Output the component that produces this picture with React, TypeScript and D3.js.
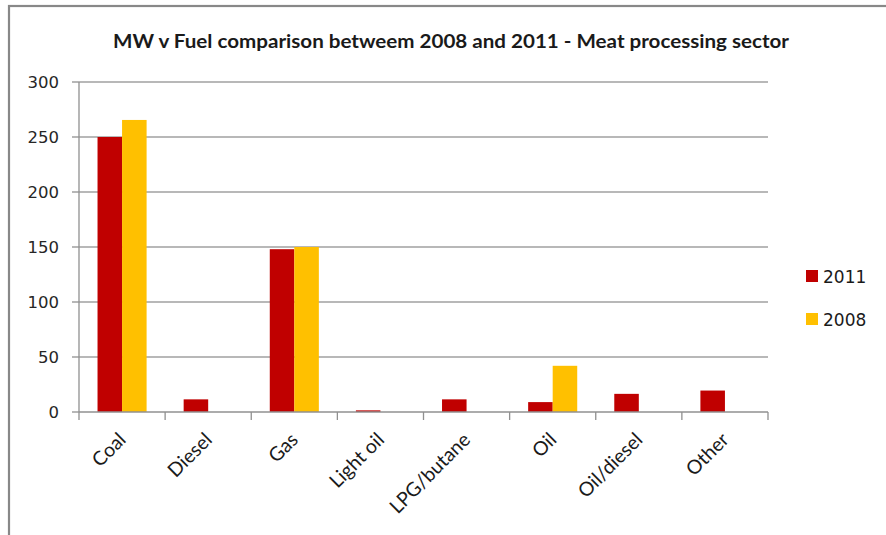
import React from "react";
import * as d3 from "d3";

const categories = ["Coal", "Diesel", "Gas", "Light oil", "LPG/butane", "Oil", "Oil/diesel", "Other"];
const series = ["2011", "2008"];
const values2011 = [250, 11.5, 148, 1.5, 11.5, 9, 16.5, 19.5];
const values2008 = [265.5, 0, 150, 0, 0, 42, 0, 0];
const yTicks = [0, 50, 100, 150, 200, 250, 300];
const colors = ["#C00000", "#FFC000"];
const title = "MW v Fuel comparison betweem 2008 and 2011 - Meat processing sector";

const W = 886;
const H = 535;
const plot = { left: 79, right: 768, top: 82, bottom: 412 };

export default function App() {
  const x = d3.scaleBand<string>().domain(categories).range([plot.left, plot.right]).paddingInner(0).paddingOuter(0);
  const xs = d3.scaleBand<string>().domain(series).range([0, x.bandwidth()]).paddingInner(0).paddingOuter(0.755);
  const y = d3.scaleLinear().domain([0, 300]).range([plot.bottom, plot.top]);
  const data = [values2011, values2008];
  const tickXs = categories.map((c) => x(c)!).concat([plot.right]);

  return (
    <div style={{ position: "absolute", left: 0, top: 0 }}>
      <svg width={W} height={H} style={{ display: "block", background: "#fff" }}>
        <rect x={9} y={6} width={W + 20} height={H + 20} fill="#fff" stroke="#888" strokeWidth={2.2} />
        <text
          x={451}
          y={48}
          textAnchor="middle"
          fontFamily="Lato, 'Open Sans', sans-serif"
          fontWeight="bold"
          fontSize={18}
          fill="#1a1a1a"
          textLength={676}
          lengthAdjust="spacingAndGlyphs"
        >
          {title}
        </text>
        {yTicks.map((t) => (
          <g key={t}>
            {t > 0 && (
              <line x1={plot.left} x2={plot.right} y1={y(t)} y2={y(t)} stroke="#a0a0a0" strokeWidth={1.3} />
            )}
            <line x1={plot.left - 7} x2={plot.left} y1={y(t)} y2={y(t)} stroke="#909090" strokeWidth={1.3} />
            <text
              x={59}
              y={y(t)}
              dy="0.36em"
              textAnchor="end"
              fontFamily="'DejaVu Sans', sans-serif"
              fontSize={16.5}
              fill="#262626"
            >
              {t}
            </text>
          </g>
        ))}
        {categories.map((c, i) => (
          <g key={c}>
            {series.map((s, j) =>
              data[j][i] > 0 ? (
                <rect
                  key={s}
                  x={x(c)! + xs(s)!}
                  y={y(data[j][i])}
                  width={xs.bandwidth()}
                  height={y(0) - y(data[j][i])}
                  fill={colors[j]}
                />
              ) : null
            )}
          </g>
        ))}
        <line x1={plot.left} x2={plot.left} y1={plot.top} y2={plot.bottom} stroke="#909090" strokeWidth={1.3} />
        <line x1={plot.left} x2={plot.right} y1={plot.bottom} y2={plot.bottom} stroke="#909090" strokeWidth={1.3} />
        {tickXs.map((tx, i) => (
          <line key={i} x1={tx} x2={tx} y1={plot.bottom} y2={plot.bottom + 8} stroke="#909090" strokeWidth={1.3} />
        ))}
        {categories.map((c) => {
          const cx = x(c)! + x.bandwidth() / 2;
          return (
            <text
              key={c}
              transform={`translate(${cx + 5},${441}) rotate(-45)`}
              textAnchor="end"
              fontFamily="Lato, 'Open Sans', sans-serif"
              fontSize={19.5}
              fill="#1a1a1a"
            >
              {c}
            </text>
          );
        })}
        {series.map((s, j) => (
          <g key={s} transform={`translate(806,${270 + j * 43})`}>
            <rect x={0} y={0} width={12} height={12} fill={colors[j]} />
            <text x={17} y={13} fontFamily="'DejaVu Sans', sans-serif" fontSize={17} fill="#1a1a1a">
              {s}
            </text>
          </g>
        ))}
      </svg>
    </div>
  );
}
